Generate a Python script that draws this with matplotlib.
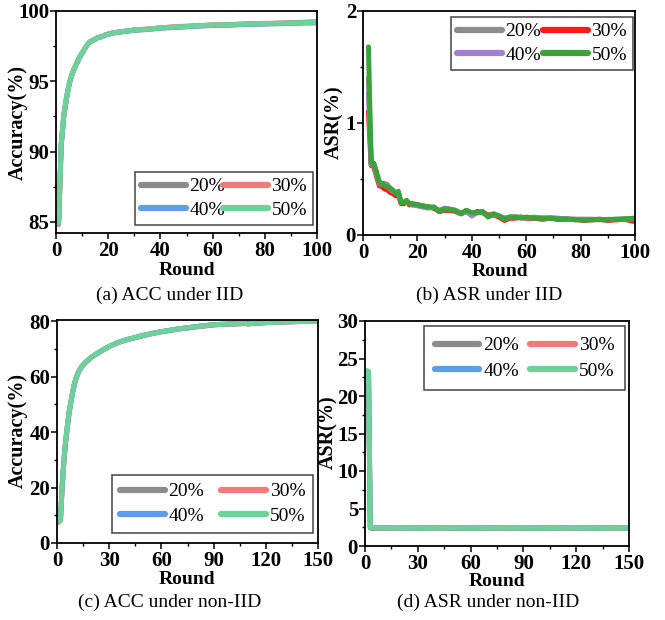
import matplotlib
matplotlib.use("Agg")
import matplotlib.pyplot as plt
from matplotlib.ticker import MultipleLocator

plt.rcParams['font.family'] = ['Liberation Serif', 'DejaVu Serif']

labels = ['20%', '30%', '40%', '50%']

# ---------------- (a) ACC under IID ----------------
rounds_a = [1, 2, 3, 4, 5, 6, 7, 8, 9, 10, 11, 12, 13, 14, 15, 16, 17, 18, 19, 20,
            22, 24, 26, 28, 30, 35, 40, 45, 50, 55, 60, 65, 70, 75, 80, 85, 90, 95, 100]
acc_iid_20 = [84.95, 90.5, 92.6, 93.8, 94.8, 95.4, 95.9, 96.3, 96.7, 97.0, 97.3, 97.6, 97.8, 97.9, 98.0,
              98.1, 98.15, 98.2, 98.3, 98.35, 98.45, 98.5, 98.55, 98.6, 98.65, 98.7, 98.8, 98.85, 98.9,
              98.95, 99.0, 99.0, 99.05, 99.08, 99.1, 99.12, 99.15, 99.18, 99.2]
acc_iid_30 = [84.8, 90.4, 92.5, 93.7, 94.7, 95.4, 95.9, 96.3, 96.7, 97.0, 97.3, 97.6, 97.8, 97.9, 98.0,
              98.1, 98.15, 98.2, 98.3, 98.35, 98.45, 98.5, 98.55, 98.6, 98.65, 98.72, 98.8, 98.87, 98.92,
              98.97, 99.0, 99.02, 99.06, 99.1, 99.12, 99.14, 99.17, 99.2, 99.25]
acc_iid_40 = [84.9, 90.5, 92.6, 93.8, 94.8, 95.4, 95.9, 96.3, 96.7, 97.0, 97.3, 97.6, 97.8, 97.9, 98.0,
              98.1, 98.15, 98.2, 98.3, 98.35, 98.43, 98.48, 98.53, 98.58, 98.63, 98.68, 98.77, 98.82, 98.87,
              98.92, 98.97, 98.98, 99.02, 99.05, 99.07, 99.09, 99.12, 99.14, 99.15]
acc_iid_50 = [84.95, 90.6, 92.6, 93.8, 94.8, 95.4, 95.9, 96.3, 96.7, 97.0, 97.3, 97.6, 97.8, 97.9, 98.0,
              98.1, 98.15, 98.2, 98.3, 98.35, 98.45, 98.5, 98.55, 98.6, 98.65, 98.7, 98.8, 98.85, 98.9,
              98.95, 99.0, 99.0, 99.05, 99.08, 99.1, 99.12, 99.15, 99.18, 99.2]

# ---------------- (b) ASR under IID ----------------
rounds_b = [2, 3, 4, 5, 6, 7, 8, 9, 10, 11, 12, 13, 14, 15, 16, 17, 18, 20, 22, 24, 26, 28, 30, 32, 34,
            36, 38, 40, 42, 44, 46, 48, 50, 52, 54, 56, 58, 60, 63, 66, 69, 72, 75, 78, 81, 84, 87, 90,
            93, 96, 100]
asr_iid_20 = [1.40, 0.64, 0.62, 0.55, 0.47, 0.46, 0.46, 0.45, 0.41, 0.39, 0.37, 0.38, 0.29, 0.28, 0.30,
              0.28, 0.28, 0.27, 0.25, 0.25, 0.24, 0.22, 0.23, 0.22, 0.22, 0.19, 0.22, 0.19, 0.20, 0.20,
              0.17, 0.18, 0.17, 0.15, 0.16, 0.16, 0.16, 0.15, 0.15, 0.15, 0.15, 0.145, 0.14, 0.14, 0.14,
              0.14, 0.14, 0.135, 0.14, 0.14, 0.14]
asr_iid_30 = [1.10, 0.62, 0.61, 0.52, 0.44, 0.43, 0.41, 0.40, 0.38, 0.37, 0.35, 0.36, 0.28, 0.28, 0.30,
              0.27, 0.27, 0.27, 0.26, 0.25, 0.24, 0.21, 0.22, 0.22, 0.21, 0.19, 0.21, 0.19, 0.21, 0.20,
              0.18, 0.18, 0.16, 0.13, 0.15, 0.15, 0.16, 0.15, 0.15, 0.14, 0.15, 0.14, 0.14, 0.14, 0.13,
              0.135, 0.14, 0.13, 0.135, 0.14, 0.12]
asr_iid_40 = [1.27, 0.63, 0.63, 0.54, 0.46, 0.45, 0.45, 0.44, 0.41, 0.39, 0.38, 0.37, 0.29, 0.29, 0.30,
              0.28, 0.27, 0.26, 0.25, 0.24, 0.25, 0.22, 0.24, 0.23, 0.22, 0.19, 0.21, 0.17, 0.20, 0.20,
              0.17, 0.18, 0.17, 0.15, 0.16, 0.16, 0.155, 0.15, 0.16, 0.15, 0.155, 0.15, 0.14, 0.14, 0.14,
              0.14, 0.135, 0.14, 0.14, 0.14, 0.145]
asr_iid_50 = [1.68, 0.64, 0.64, 0.56, 0.47, 0.46, 0.44, 0.43, 0.42, 0.40, 0.37, 0.39, 0.29, 0.29, 0.31,
              0.28, 0.28, 0.27, 0.26, 0.25, 0.25, 0.21, 0.23, 0.23, 0.22, 0.19, 0.22, 0.20, 0.20, 0.21,
              0.16, 0.19, 0.17, 0.14, 0.16, 0.16, 0.15, 0.16, 0.15, 0.15, 0.15, 0.14, 0.145, 0.135, 0.135,
              0.135, 0.14, 0.135, 0.14, 0.145, 0.15]

# ---------------- (c) ACC under non-IID ----------------
rounds_c = [1, 2, 3, 4, 5, 6, 7, 8, 9, 10, 11, 12, 13, 14, 15, 17, 20, 25, 30, 35, 40, 45, 50, 55, 60,
            70, 80, 90, 100, 105, 108, 110, 112, 120, 130, 140, 150]
acc_non_20 = [7.7, 8.5, 21, 30, 37, 42.5, 47.5, 51, 54.5, 57.5, 59.5, 61.3, 62.5, 63.5, 64.3, 65.6, 67.2,
              69.2, 71.0, 72.4, 73.4, 74.2, 75.0, 75.7, 76.3, 77.3, 78.1, 78.8, 79.1, 79.2, 79.3, 79.3,
              79.3, 79.6, 79.8, 80.0, 80.2]
acc_non_30 = [7.5, 8.3, 20.5, 29.5, 36.5, 42, 47, 50.8, 54.3, 57.3, 59.4, 61.2, 62.4, 63.4, 64.2, 65.5,
              67.1, 69.1, 70.9, 72.3, 73.3, 74.1, 74.9, 75.6, 76.2, 77.2, 78.0, 78.7, 79.0, 79.1, 79.2,
              79.2, 79.2, 79.5, 79.7, 79.9, 80.1]
acc_non_40 = [7.6, 8.4, 20.8, 29.8, 36.8, 42.3, 47.3, 50.9, 54.4, 57.4, 59.5, 61.3, 62.5, 63.5, 64.3, 65.6,
              67.2, 69.2, 71.0, 72.4, 73.4, 74.2, 75.0, 75.7, 76.3, 77.3, 78.1, 78.8, 79.1, 79.2, 79.3,
              79.3, 79.3, 79.6, 79.8, 80.0, 80.2]
acc_non_50 = [7.6, 8.5, 21, 30, 37, 42.5, 47.5, 51, 54.5, 57.5, 59.5, 61.3, 62.5, 63.5, 64.3, 65.6, 67.2,
              69.2, 71.0, 72.4, 73.4, 74.2, 75.0, 75.7, 76.3, 77.3, 78.1, 78.8, 79.1, 79.2, 79.3, 78.9,
              79.3, 79.6, 79.8, 80.0, 80.2]

# ---------------- (d) ASR under non-IID ----------------
rounds_d = [1, 2, 3, 4, 10, 20, 30, 40, 50, 60, 70, 80, 90, 100, 110, 120, 130, 140, 150]
asr_non_20 = [23.0, 22.9, 2.4, 2.35, 2.35, 2.4, 2.35, 2.35, 2.4, 2.35, 2.35, 2.4, 2.35, 2.35, 2.35, 2.4,
              2.35, 2.35, 2.4]
asr_non_30 = [22.8, 22.7, 2.45, 2.4, 2.4, 2.4, 2.45, 2.4, 2.4, 2.45, 2.4, 2.4, 2.4, 2.45, 2.4, 2.4, 2.45,
              2.4, 2.4]
asr_non_40 = [23.2, 23.1, 2.45, 2.4, 2.45, 2.4, 2.4, 2.45, 2.4, 2.4, 2.45, 2.4, 2.4, 2.4, 2.45, 2.4, 2.4,
              2.45, 2.4]
asr_non_50 = [23.4, 23.3, 2.5, 2.45, 2.4, 2.45, 2.4, 2.4, 2.45, 2.4, 2.4, 2.45, 2.4, 2.4, 2.4, 2.45, 2.4,
              2.4, 2.45]

colors_1 = ['#8c8c8c', '#f47a7a', '#5e9cec', '#6fd19a']
colors_2 = ['#8c8c8c', '#ff1a1a', '#a080d0', '#3aa33a']

captions = ['(a) ACC under IID', '(b) ASR under IID', '(c) ACC under non-IID', '(d) ASR under non-IID']

W, H = 665, 620
fig = plt.figure(figsize=(W / 100, H / 100), dpi=100)


def fx(x):
    return x / W


def fy(y):
    return 1 - y / H


def px_axes(l, t, r, b):
    return fig.add_axes([l / W, 1 - b / H, (r - l) / W, (b - t) / H])


def style(ax, xlim, xmaj, xmin, ylim, ymaj, ymin, ylabel, xlab_pos, ylab_pos):
    ax.set_xlim(*xlim)
    ax.set_ylim(*ylim)
    ax.xaxis.set_major_locator(MultipleLocator(xmaj))
    ax.xaxis.set_minor_locator(MultipleLocator(xmin))
    ax.yaxis.set_major_locator(MultipleLocator(ymaj))
    ax.yaxis.set_minor_locator(MultipleLocator(ymin))
    ax.tick_params(which='major', direction='out', length=4, width=1.1, labelsize=15)
    ax.tick_params(axis='x', which='major', pad=2)
    ax.tick_params(axis='y', which='major', pad=1)
    ax.tick_params(which='minor', direction='out', length=2.5, width=1.0)
    for lab in ax.get_xticklabels() + ax.get_yticklabels():
        lab.set_fontweight('bold')
    for s in ax.spines.values():
        s.set_linewidth(1.3)
    ax.set_xlabel('Round', fontsize=14, fontweight='bold', va='center')
    ax.set_ylabel(ylabel, fontsize=14.5, fontweight='bold', va='center')
    ax.xaxis.set_label_coords(fx(xlab_pos[0]), fy(xlab_pos[1]), transform=fig.transFigure)
    ax.yaxis.set_label_coords(fx(ylab_pos[0]), fy(ylab_pos[1]), transform=fig.transFigure)


def add_legend(ax, handles, box, bpad, lspace):
    l, t, r, b = box
    order = [0, 2, 1, 3]
    leg = ax.legend([handles[i] for i in order], [labels[i] for i in order], ncol=2,
                    loc='upper left', mode='expand',
                    bbox_to_anchor=(l / W, 1 - b / H, (r - l) / W, (b - t) / H),
                    bbox_transform=fig.transFigure, fontsize=14, frameon=True, fancybox=False,
                    edgecolor='#444444', framealpha=1, handlelength=2.3, handletextpad=0.2,
                    columnspacing=0.3, borderpad=bpad, labelspacing=lspace, borderaxespad=0)
    leg.get_frame().set_linewidth(1.1)
    for ln in leg.get_lines():
        ln.set_linewidth(4.5)
        ln.set_solid_capstyle('round')


# (a)
ax = px_axes(56, 11, 317, 233)
hs = []
for ys, c in zip([acc_iid_20, acc_iid_30, acc_iid_40, acc_iid_50], colors_1):
    hs.append(ax.plot(rounds_a, ys, color=c, lw=3.6, solid_capstyle='round', solid_joinstyle='round')[0])
style(ax, (0, 100), 20, 10, (84.2, 100), 5, 2.5, 'Accuracy(%)', (187, 271), (18, 122))
add_legend(ax, hs, (135, 172, 313, 227), 0.3, 0.3)

# (b)
ax = px_axes(363, 11, 635, 235)
hs = []
for ys, c in zip([asr_iid_20, asr_iid_30, asr_iid_40, asr_iid_50], colors_2):
    hs.append(ax.plot(rounds_b, ys, color=c, lw=3.6, solid_capstyle='round', solid_joinstyle='round')[0])
style(ax, (0, 100), 20, 10, (0, 2), 1, 0.5, 'ASR(%)', (500, 272), (334, 122))
add_legend(ax, hs, (451, 17, 633, 71), 0.3, 0.32)

# (c)
ax = px_axes(57, 320, 318, 543)
hs = []
for ys, c in zip([acc_non_20, acc_non_30, acc_non_40, acc_non_50], colors_1):
    hs.append(ax.plot(rounds_c, ys, color=c, lw=3.6, solid_capstyle='round', solid_joinstyle='round')[0])
style(ax, (0, 150), 30, 15, (0, 80.5), 20, 10, 'Accuracy(%)', (187, 580), (18, 431))
add_legend(ax, hs, (112, 475, 313, 533), 0.4, 0.35)

# (d)
ax = px_axes(365, 321, 629, 546)
hs = []
for ys, c in zip([asr_non_20, asr_non_30, asr_non_40, asr_non_50], colors_1):
    hs.append(ax.plot(rounds_d, ys, color=c, lw=3.6, solid_capstyle='round', solid_joinstyle='round')[0])
style(ax, (0, 150), 30, 15, (0, 30), 5, 2.5, 'ASR(%)', (497, 582), (328, 432))
add_legend(ax, hs, (424, 326, 625, 389), 0.55, 0.4)

# captions
for (x, y), txt in zip([(170, 295), (489, 295), (170, 602), (488, 602)], captions):
    fig.text(fx(x), fy(y), txt, ha='center', va='center', fontsize=14)

fig.savefig('out.png', dpi=100)
